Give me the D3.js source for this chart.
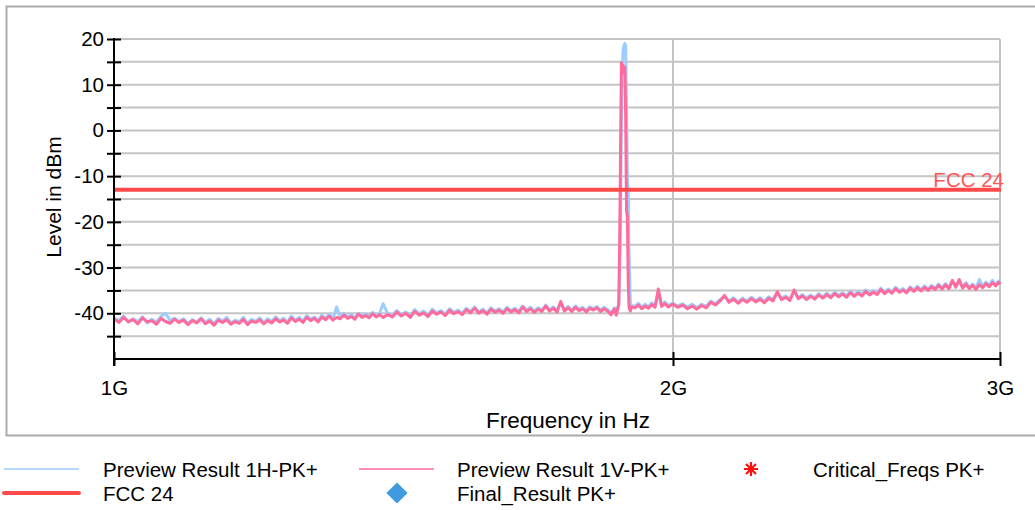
<!DOCTYPE html>
<html>
<head>
<meta charset="utf-8">
<script src="https://cdn.jsdelivr.net/npm/d3@7"></script>
<style>
  html, body { margin: 0; padding: 0; background: #ffffff; }
  #chart { width: 1035px; height: 510px; }
  svg text { font-family: "Liberation Sans", Arial, sans-serif; }
</style>
</head>
<body>
<div id="chart"></div>
<script>
// --- data ---

// sweep frequencies in MHz (shared by both preview traces)
const freqMHz = [
  1000,1006,1012,1018,1024,1030,1036,1042,1048,1054,1060,1066,1072,1078,1084,1090,1096,1102,1108,1114,
  1120,1126,1132,1138,1144,1150,1156,1162,1168,1174,1180,1186,1192,1198,1204,1210,1216,1222,1228,1234,
  1240,1246,1252,1258,1264,1270,1276,1282,1288,1294,1300,1306,1312,1318,1324,1330,1336,1342,1348,1354,
  1360,1366,1372,1378,1384,1390,1396,
  1404,1412,1420,1428,1436,1444,1452,1460,1468,1476,1484,1492,1500,1508,1516,1524,1532,1540,1548,1556,
  1564,1572,1580,1588,1596,1604,1612,1620,1628,1636,1644,1652,1660,1668,1676,1684,1692,1700,1708,1716,
  1724,1732,1740,1748,1756,1764,1772,1780,1788,1796,1804,1812,1820,1828,1836,1844,1852,1860,
  1864,1867,1870,1872,1874,1876,1878,1880,1882,1884,1886,1888,1890,1892,1894,1897,1900,
  1908,1916,1924,1932,1940,1948,1956,1964,1972,1980,1988,1996,
  2000,2012,2024,2036,2048,2060,2072,2084,2096,2108,2120,2132,2144,2156,2168,2180,2192,2204,2216,2228,
  2240,2252,2264,2276,2288,2300,2312,2324,2336,2348,2360,2372,2384,2396,2408,2420,2432,2444,2456,2468,
  2480,2492,2504,2516,2528,2540,2552,2564,2576,2588,2600,2612,2624,2636,2648,2660,2672,2684,2696,2708,
  2720,2732,2744,2756,2768,2780,2792,2804,2816,2828,2840,2852,2864,2876,2888,2900,2912,2924,2936,2948,
  2960,2972,2984,2996,3000
];

// Preview Result 1H-PK+ (dBm)
const level1H = [
  -41.0,-41.6,-40.6,-42.0,-41.2,-41.8,-40.8,-42.1,-41.3,-41.9,-40.7,-40.0,-41.6,-41.1,-41.8,-41.2,-42.2,-41.4,-41.9,-41.0,
  -42.0,-41.3,-42.3,-41.1,-41.7,-40.9,-42.1,-41.5,-41.9,-40.9,-42.2,-41.3,-41.8,-41.0,-42.0,-41.2,-41.8,-40.8,-41.6,-41.1,
  -41.9,-40.6,-41.5,-40.9,-41.7,-40.5,-41.3,-40.8,-41.6,-40.4,-41.1,-40.2,-41.2,-38.6,-40.9,-40.0,-40.8,-40.3,-41.0,-40.0,
  -40.6,-40.1,-40.7,-39.8,-40.5,-40.0,-37.9,
  -40.0,-40.5,-39.4,-40.3,-39.7,-40.6,-39.2,-40.1,-39.5,-40.4,-39.1,-39.9,-39.4,-40.2,-39.0,-39.8,-39.3,-40.0,-38.9,-39.6,
  -38.6,-39.7,-39.1,-39.9,-38.8,-39.5,-39.0,-39.7,-38.7,-39.4,-38.9,-39.6,-38.4,-39.3,-38.7,-39.5,-38.8,-39.3,-38.2,-39.2,
  -38.6,-39.4,-37.8,-39.2,-38.5,-39.3,-38.4,-39.1,-38.7,-39.4,-38.6,-39.0,-38.5,-39.3,-38.7,-39.2,-39.9,-38.8,
  -40.0,-39.0,-37.8,-30.0,-20.0,2.0,14.0,17.5,18.6,19.0,18.4,5.0,-11.0,-13.0,-27.0,-38.0,-38.3,
  -38.5,-37.8,-38.7,-38.0,-38.6,-37.7,-38.4,-35.6,-38.2,-37.5,-38.3,-37.9,
  -37.8,-38.4,-37.9,-38.7,-38.0,-38.8,-38.0,-38.5,-37.3,-37.9,-37.0,-36.4,-37.3,-36.6,-37.5,-36.7,-37.3,-36.5,-37.2,-36.6,
  -37.4,-36.4,-37.0,-35.6,-36.7,-36.2,-36.9,-35.3,-36.5,-35.9,-36.7,-36.0,-36.6,-35.7,-36.4,-35.6,-36.3,-35.4,-36.1,-35.5,
  -36.2,-35.2,-36.0,-35.3,-35.9,-34.9,-35.7,-35.1,-35.6,-34.5,-35.4,-34.7,-35.3,-34.3,-35.1,-34.6,-35.2,-34.2,-34.9,-34.1,
  -34.8,-34.0,-34.7,-33.9,-34.5,-33.6,-34.4,-33.5,-34.3,-33.0,-34.0,-33.1,-34.2,-33.3,-34.3,-33.6,-34.5,-32.6,-34.1,-33.2,
  -33.9,-32.8,-33.7,-32.9,-33.4
];

// Preview Result 1V-PK+ (dBm)
const level1V = [
  -41.2,-42.0,-40.9,-41.8,-41.4,-42.3,-41.0,-41.9,-41.6,-42.4,-41.1,-41.8,-42.2,-41.3,-42.0,-41.5,-42.5,-41.6,-42.1,-41.2,
  -42.3,-41.7,-42.6,-41.5,-42.0,-41.4,-42.4,-41.8,-42.2,-41.3,-42.5,-41.7,-42.0,-41.4,-42.3,-41.6,-42.1,-41.2,-41.9,-41.5,
  -42.2,-41.0,-41.8,-41.3,-42.0,-40.9,-41.6,-41.1,-41.9,-40.8,-41.4,-40.6,-41.5,-40.9,-41.2,-40.4,-41.1,-40.7,-41.3,-40.2,
  -40.9,-40.5,-41.0,-40.1,-40.8,-40.3,-40.9,
  -40.3,-40.8,-39.7,-40.6,-40.0,-40.9,-39.6,-40.4,-39.9,-40.7,-39.5,-40.2,-39.7,-40.5,-39.3,-40.1,-39.6,-40.3,-39.2,-39.9,
  -38.9,-40.0,-39.4,-40.2,-39.1,-39.8,-39.3,-40.0,-39.0,-39.7,-39.2,-39.9,-38.6,-39.6,-39.0,-39.8,-39.1,-39.6,-38.4,-39.5,
  -38.9,-39.7,-37.4,-39.5,-38.8,-39.6,-38.7,-39.4,-39.0,-39.7,-38.9,-39.3,-38.8,-39.6,-39.0,-39.5,-40.3,-39.1,
  -40.4,-39.2,-38.0,-24.5,-5.0,14.8,13.5,14.2,12.6,13.8,3.0,-17.5,-19.0,-33.5,-38.8,-39.5,-38.6,
  -38.8,-38.2,-39.0,-38.4,-38.9,-38.1,-38.7,-34.7,-38.5,-37.9,-38.6,-38.2,
  -38.0,-38.7,-38.2,-39.0,-38.4,-39.1,-38.3,-38.8,-37.6,-38.2,-37.3,-36.1,-37.6,-36.9,-37.8,-37.0,-37.6,-36.8,-37.5,-36.9,
  -37.7,-36.7,-37.3,-35.3,-37.0,-36.5,-37.2,-34.9,-36.8,-36.2,-37.0,-36.3,-36.9,-36.0,-36.7,-35.9,-36.6,-35.7,-36.4,-35.8,
  -36.5,-35.5,-36.3,-35.6,-36.2,-35.2,-36.0,-35.4,-35.9,-34.8,-35.7,-35.0,-35.6,-34.6,-35.4,-34.9,-35.5,-34.5,-35.2,-34.4,
  -35.1,-34.3,-35.0,-34.2,-34.8,-33.9,-34.7,-33.8,-34.6,-32.8,-34.3,-32.6,-34.5,-33.6,-34.6,-33.9,-34.8,-33.7,-34.4,-33.5,
  -34.2,-33.3,-34.0,-33.2,-33.7
];

// limit line
const limitName = "FCC 24";
const limitLevel = -13;

// axes
const xTickValues = [1e9, 2e9, 3e9];
const xTickLabels = ["1G", "2G", "3G"];
const yMajorTicks = [-40, -30, -20, -10, 0, 10, 20];
const yMinorTicks = [-45, -35, -25, -15, -5, 5, 15];
const yDomain = [-50, 20];
const xDomain = [1e9, 3e9];

// legend entries: [label, kind]
const legendItems = [
  ["Preview Result 1H-PK+", "line1H"],
  ["Preview Result 1V-PK+", "line1V"],
  ["Critical_Freqs PK+", "asterisk"],
  ["FCC 24", "limit"],
  ["Final_Result PK+", "diamond"]
];

document.addEventListener('DOMContentLoaded', function () {

    // --- 1. svg ---
    const width = 1035, height = 510;
    const svg = d3.select("#chart").append("svg")
        .attr("width", width)
        .attr("height", height)
        .attr("viewBox", `0 0 ${width} ${height}`);

    const colors = {
        h: "#9dcdff",
        v: "#ff6b9c",
        limit: "#ff4a4a",
        grid: "#c4c4c4",
        frame: "#ababab"
    };
    const fontSize = 20.5;

    // outer frame around the diagram
    svg.append("rect")
        .attr("x", 6.5).attr("y", 6.5)
        .attr("width", 1040).attr("height", 429)
        .attr("fill", "none")
        .attr("stroke", colors.frame)
        .attr("stroke-width", 2);

    // --- 2. scales ---
    const plot = { left: 114, right: 1000, top: 39, bottom: 359 };
    const x = d3.scaleLog().domain(xDomain).range([plot.left, plot.right]);
    const y = d3.scaleLinear().domain(yDomain).range([plot.bottom, plot.top]);

    // --- 3. grid ---
    const grid = svg.append("g").attr("class", "grid");
    grid.selectAll("line.h")
        .data(yMajorTicks.concat(yMinorTicks))
        .join("line")
        .attr("class", "h")
        .attr("x1", plot.left).attr("x2", plot.right)
        .attr("y1", d => y(d)).attr("y2", d => y(d))
        .attr("stroke", colors.grid)
        .attr("stroke-width", 2);

    grid.selectAll("line.v")
        .data(xTickValues.slice(1))
        .join("line")
        .attr("class", "v")
        .attr("x1", d => x(d)).attr("x2", d => x(d))
        .attr("y1", plot.top).attr("y2", plot.bottom)
        .attr("stroke", colors.grid)
        .attr("stroke-width", 2);

    // --- 4. traces ---
    const line = d3.line()
        .x(d => x(d[0] * 1e6))
        .y(d => y(d[1]));

    svg.append("path")
        .datum(d3.zip(freqMHz, level1H))
        .attr("d", line)
        .attr("fill", "none")
        .attr("stroke", colors.h)
        .attr("stroke-width", 3)
        .attr("stroke-linejoin", "round");

    svg.append("path")
        .datum(d3.zip(freqMHz, level1V))
        .attr("d", line)
        .attr("fill", "none")
        .attr("stroke", colors.v)
        .attr("stroke-width", 3)
        .attr("stroke-linejoin", "round");

    // limit line + label
    svg.append("line")
        .attr("x1", x(xDomain[0])).attr("x2", x(xDomain[1]) + 1)
        .attr("y1", y(limitLevel)).attr("y2", y(limitLevel))
        .attr("stroke", colors.limit)
        .attr("stroke-width", 4);

    svg.append("text")
        .attr("x", x(xDomain[1]) + 4)
        .attr("y", y(limitLevel) - 3)
        .attr("text-anchor", "end")
        .attr("font-size", fontSize)
        .attr("fill", "#ff5656")
        .text(limitName);

    // --- 5. axes ---
    const yAxis = svg.append("g")
        .attr("transform", `translate(${plot.left},0)`)
        .call(d3.axisLeft(y).tickValues(yMajorTicks).tickSize(7).tickPadding(3)
            .tickFormat(d => String(d)));
    const yAxisMinor = svg.append("g")
        .attr("transform", `translate(${plot.left},0)`)
        .call(d3.axisLeft(y).tickValues(yMinorTicks).tickSize(7).tickFormat(""));

    const xAxis = svg.append("g")
        .attr("transform", `translate(0,${plot.bottom})`)
        .call(d3.axisBottom(x).tickValues(xTickValues).tickSize(7).tickPadding(14)
            .tickFormat((d, i) => xTickLabels[i]));

    [yAxis, yAxisMinor].forEach(g => {
        g.select(".domain").remove();
        g.selectAll(".tick line").attr("x1", 7).attr("stroke", "#000").attr("stroke-width", 2);
    });
    xAxis.select(".domain").remove();
    xAxis.selectAll(".tick line").attr("y1", -7).attr("stroke", "#000").attr("stroke-width", 2);

    svg.selectAll(".tick text")
        .attr("font-family", "Liberation Sans, Arial, sans-serif")
        .attr("font-size", fontSize)
        .attr("fill", "#000");

    // axis lines
    svg.append("line")
        .attr("x1", plot.left).attr("x2", plot.left)
        .attr("y1", plot.top - 1).attr("y2", plot.bottom + 7)
        .attr("stroke", "#000").attr("stroke-width", 2);
    svg.append("line")
        .attr("x1", plot.left).attr("x2", plot.right)
        .attr("y1", plot.bottom).attr("y2", plot.bottom)
        .attr("stroke", "#000").attr("stroke-width", 2);

    // axis titles
    svg.append("text")
        .attr("transform", `translate(61,${(plot.top + plot.bottom) / 2 - 2}) rotate(-90)`)
        .attr("text-anchor", "middle")
        .attr("font-size", 21)
        .text("Level in dBm");

    svg.append("text")
        .attr("x", 568)
        .attr("y", 428)
        .attr("text-anchor", "middle")
        .attr("font-size", 22.5)
        .text("Frequency in Hz");

    // --- 6. legend ---
    const legendPos = [
        { sx: 4, tx: 103, y: 469 },
        { sx: 359, tx: 457, y: 469 },
        { sx: 751, tx: 813, y: 469 },
        { sx: 4, tx: 103, y: 493 },
        { sx: 397, tx: 457, y: 493 }
    ];
    const legend = svg.append("g").attr("class", "legend");

    legendItems.forEach(([label, kind], i) => {
        const p = legendPos[i];
        const g = legend.append("g");
        if (kind === "line1H" || kind === "line1V" || kind === "limit") {
            g.append("line")
                .attr("x1", p.sx).attr("x2", p.sx + 75)
                .attr("y1", p.y).attr("y2", p.y)
                .attr("stroke", kind === "line1H" ? colors.h : kind === "line1V" ? colors.v : colors.limit)
                .attr("stroke-width", kind === "limit" ? 4 : 1.6)
                .attr("stroke-linecap", kind === "limit" ? "round" : "butt");
        } else if (kind === "diamond") {
            g.append("path")
                .attr("d", d3.symbol(d3.symbolSquare, 225)())
                .attr("transform", `translate(${p.sx},${p.y}) rotate(45)`)
                .attr("fill", "#3f9ae0");
        } else if (kind === "asterisk") {
            const r = 7;
            const d = [0, 45, 90, 135].map(a => {
                const rad = a * Math.PI / 180;
                const dx = r * Math.cos(rad), dy = r * Math.sin(rad);
                return `M${-dx},${-dy}L${dx},${dy}`;
            }).join("");
            g.append("path")
                .attr("d", d)
                .attr("transform", `translate(${p.sx},${p.y})`)
                .attr("stroke", "#ff1010")
                .attr("stroke-width", 2.2)
                .attr("fill", "none");
        }
        g.append("text")
            .attr("x", p.tx)
            .attr("y", p.y + 8)
            .attr("font-size", fontSize)
            .attr("fill", "#000")
            .text(label);
    });
});
</script>
</body>
</html>
